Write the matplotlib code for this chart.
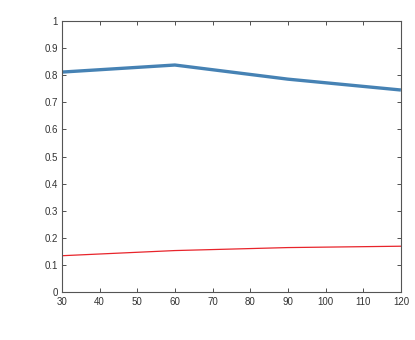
import matplotlib
matplotlib.use('Agg')
import matplotlib.pyplot as plt

plt.rcParams['font.family'] = ['Liberation Sans', 'DejaVu Sans']

x_vals = [30, 60, 90, 120]
blue_vals = [0.811, 0.837, 0.785, 0.745]
red_vals = [0.135, 0.154, 0.165, 0.170]

x_ticks = [30, 40, 50, 60, 70, 80, 90, 100, 110, 120]
y_ticks = [0, 0.1, 0.2, 0.3, 0.4, 0.5, 0.6, 0.7, 0.8, 0.9, 1]
y_labels = ['0', '0.1', '0.2', '0.3', '0.4', '0.5', '0.6', '0.7', '0.8', '0.9', '1']

fig = plt.figure(figsize=(4.15, 3.4), dpi=100)
ax = fig.add_axes([0.149, 0.140, 0.817, 0.799])

ax.plot(x_vals, blue_vals, color='#4682b4', linewidth=2.4, solid_capstyle='butt')
ax.plot(x_vals, red_vals, color='#e8242b', linewidth=0.9)

ax.set_xlim(30, 120)
ax.set_ylim(0, 1)
ax.set_xticks(x_ticks)
ax.set_yticks(y_ticks)
ax.set_yticklabels(y_labels)

for s in ax.spines.values():
    s.set_color('#555555')
    s.set_linewidth(0.8)
ax.tick_params(direction='in', top=True, right=True, length=3, width=0.6,
               colors='#333333', labelsize=7, pad=3)

fig.savefig('out.png', dpi=100)
